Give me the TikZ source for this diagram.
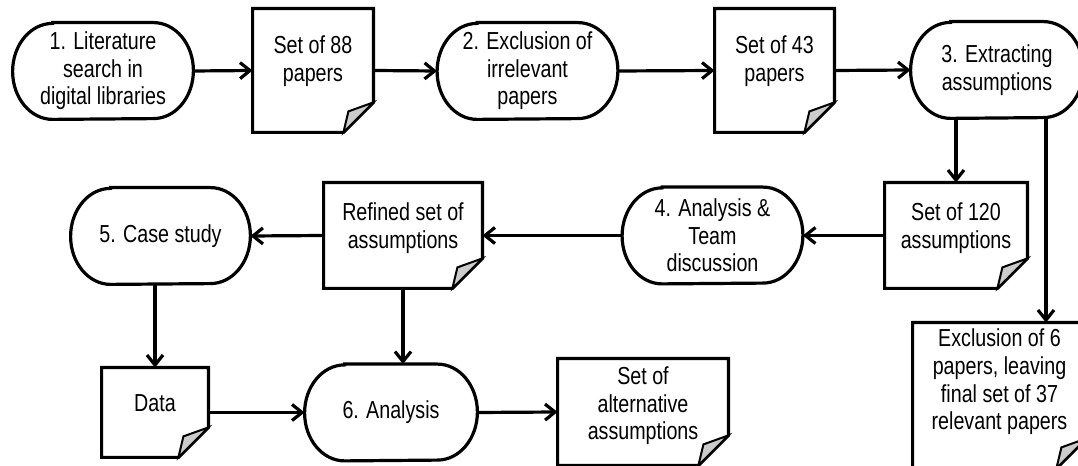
\documentclass[tikz,border=0pt]{standalone}
\usepackage{fontspec}
\setmainfont{Liberation Sans}[FakeStretch=0.8]
\usetikzlibrary{positioning, arrows.meta}
\tikzset{
	process/.style={minimum height=48pt, inner sep=0pt, align=center},
	docbox/.style={inner sep=0pt},
	doctext/.style={inner sep=0pt, align=center},
	flow/.style={line width=1.6pt, -{Straight Barb[length=5pt,width=8pt,line width=1.6pt]}},
	outline/.style={line width=1.6pt, line join=miter},
}

\begin{document}
\begin{tikzpicture}[x=0.5pt, y=0.5pt, font=\fontsize{12.3pt}{13.8pt}\selectfont]
	\useasboundingbox (0,0) rectangle (1078,466);
	\clip (0,0) rectangle (1078,466);
	\node[process, minimum width=90pt] (t1) at (103,395) {1. Literature\\search in\\digital libraries};
	\node[docbox, minimum width=60pt, minimum height=61.5pt] (d88) at (313,395.5) {};
	\node[process, minimum width=90pt] (t2) at (527.5,395) {2. Exclusion of\\irrelevant\\papers};
	\node[docbox, minimum width=59.5pt, minimum height=61.5pt] (d43) at (774.5,395.5) {};
	\node[process, minimum width=86pt] (t3) at (997,396) {3. Extracting\\assumptions};
	\node[docbox, minimum width=71pt, minimum height=52.5pt] (d120) at (956,230.5) {};
	\node[process, minimum width=90pt] (t4) at (712.5,230.5) {4. Analysis \&\\Team\\discussion};
	\node[docbox, minimum width=79pt, minimum height=52.5pt] (dRef) at (403,230.5) {};
	\node[process, minimum width=89.5pt] (t5) at (160.5,230) {5. Case study};
	\node[docbox, minimum width=53pt, minimum height=44.5pt] (data) at (155,53.5) {};
	\node[process, minimum width=86pt] (t6) at (391,53.5) {6. Analysis};
	\node[docbox, minimum width=85pt, minimum height=53pt] (dAlt) at (643,54) {};
	\node[docbox, minimum width=86.5pt, minimum height=72.5pt] (dEx) at (999.5,70.5) {};

	\node[doctext, below=13.5pt of d88.north] (d88-t) {Set of 88\\papers};
	\node[doctext, below=13.5pt of d43.north] (d43-t) {Set of 43\\papers};
	\node[doctext, below=10pt of d120.north] (d120-t) {Set of 120\\assumptions};
	\node[doctext, below=10pt of dRef.north] (dRef-t) {Refined set of\\assumptions};
	\node[doctext, below=13.5pt of data.north] (data-t) {Data};
	\node[doctext, below=4pt of dAlt.north] (dAlt-t) {Set of\\alternative\\assumptions};
	\node[doctext, below=3pt of dEx.north] (dEx-t) {Exclusion of 6\\papers, leaving\\final set of 37\\relevant papers};

	\foreach \n in {t1,t2,t3,t4,t5,t6}
		\draw[outline] ([xshift=20pt]\n.north west) -- ([xshift=-20pt]\n.north east)
			arc[start angle=90, end angle=-90, x radius=20pt, y radius=24pt]
			-- ([xshift=20pt]\n.south west)
			arc[start angle=270, end angle=90, x radius=20pt, y radius=24pt] -- cycle;
	\foreach \n in {d88,d43,d120,dRef,data,dAlt,dEx}{
		\draw[outline] (\n.north west) -- (\n.north east) -- ([yshift=15pt]\n.south east)
			-- ([xshift=-15pt]\n.south east) -- (\n.south west) -- cycle;
		\draw[outline, line width=1pt, fill=gray!40] ([xshift=-15pt]\n.south east)
			-- ([xshift=-12.5pt,yshift=10.5pt]\n.south east) -- ([yshift=15pt]\n.south east) -- cycle;
	}

	\path[every edge/.style={draw, flow}]
	(t1.east) edge (d88.west)
	(d88.east) edge (t2.west)
	(t2.east) edge (d43.west)
	(d43.east) edge (t3.west)
	(d120.north |- t3.south) edge (d120.north)
	([xshift=24.5pt]t3.south) edge ([xshift=24.5pt]t3.south |- dEx.north)
	(d120.west) edge (t4.east)
	(t4.west) edge (dRef.east)
	(dRef.west) edge (t5.east)
	(data.north |- t5.south) edge (data.north)
	(dRef.south) edge (dRef.south |- t6.north)
	(data.east) edge (t6.west)
	(t6.east) edge (dAlt.west)
	;
\end{tikzpicture}
\end{document}
